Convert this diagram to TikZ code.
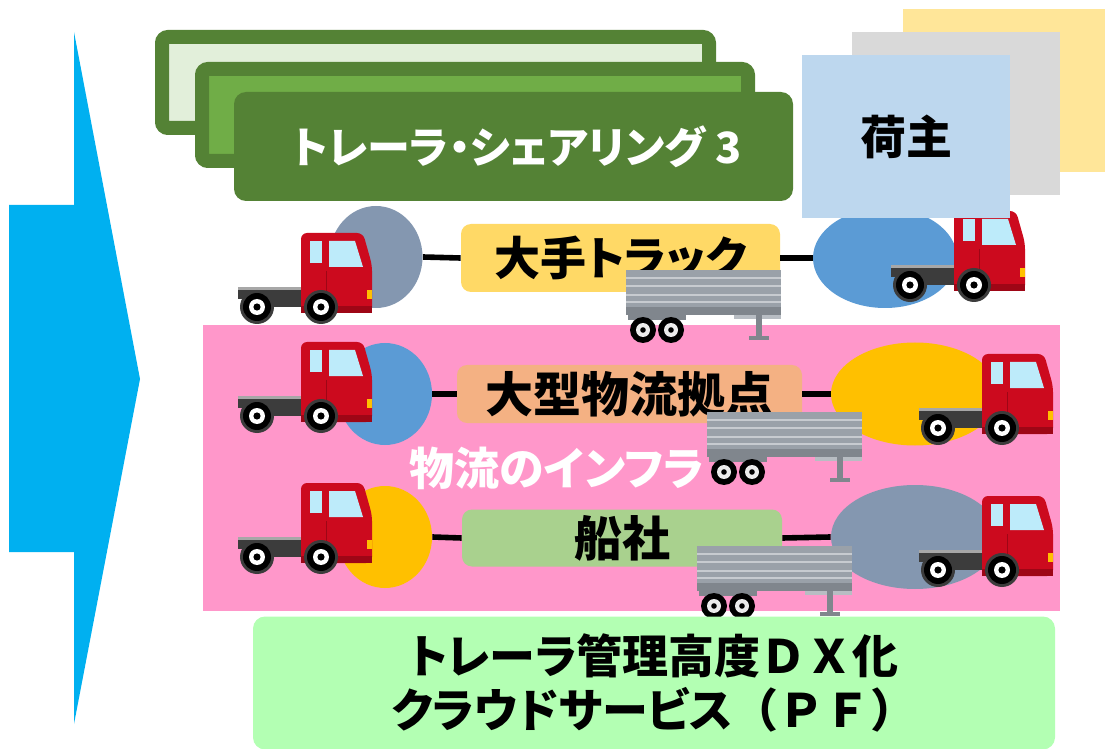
\documentclass[tikz,border=0pt]{standalone}
\usepackage{fontspec}
\setmainfont{Noto Sans CJK JP}[RawFeature=+palt]
\newfontfamily\jpplein{Noto Sans CJK JP}
\usepackage{tikz}
\usetikzlibrary{shapes.geometric}

\definecolor{bleuFleche}{HTML}{00B0F0}
\definecolor{vertFonce}{HTML}{548235}
\definecolor{vertMoyen}{HTML}{70AD47}
\definecolor{vertClair}{HTML}{E2EFDA}
\definecolor{jauneCarte}{HTML}{FFE699}
\definecolor{grisCarte}{HTML}{D9D9D9}
\definecolor{bleuCarte}{HTML}{BDD7EE}
\definecolor{rose}{HTML}{FF97CA}
\definecolor{grisBleu}{HTML}{8497B0}
\definecolor{bleu}{HTML}{5B9BD5}
\definecolor{orangeJ}{HTML}{FFC000}
\definecolor{jauneEt}{HTML}{FFD966}
\definecolor{orangeEt}{HTML}{F4B183}
\definecolor{vertEt}{HTML}{A9D18E}
\definecolor{vertPF}{HTML}{B3FFB3}
\definecolor{rouge}{HTML}{CC0A1E}
\definecolor{rougeF}{HTML}{9E0616}
\definecolor{vitre}{HTML}{BDEBFA}
\definecolor{chassis}{HTML}{3C3C3C}
\definecolor{grisR}{HTML}{9AA1A9}
\definecolor{grisF}{HTML}{80868D}

\tikzset{
  % tracteur : origine = avant de la cabine, axe des roues
  tracteur/.pic={
    \fill[chassis] (-134,-20) rectangle (-66,-8);
    \fill[chassis!45] (-134,-20) rectangle (-66,-17);
    \fill[chassis] (-126,-8) rectangle (-40,0);
    \fill[rouge, rounded corners=3pt] (-71,6) -- (-71,-74) -- (-9,-74) -- (0,-42) -- (0,6) -- cycle;
    \fill[rougeF] (-71,-1) rectangle (0,6);
    \fill[vitre] (-62,-66) rectangle (-50,-44);
    \fill[vitre] (-43,-66) -- (-17,-66) -- (-9,-40) -- (-43,-40) -- cycle;
    \draw[rougeF, line width=0.4pt] (-46,-36) -- (-46,-4);
    \fill[orangeJ] (-5,-17) rectangle (0,-8);
    \foreach \r in {-115,-51} {
      \fill[chassis] (\r,0) circle[radius=8.5pt];
      \fill[black] (\r,0) circle[radius=7pt];
      \fill[white] (\r,0) circle[radius=4pt];
      \fill[black] (\r,0) circle[radius=1.8pt];
    }
  },
  % remorque : origine = coin haut gauche de la caisse
  remorque/.pic={
    \fill[grisR] (0,0) rectangle (155,45);
    \foreach \s in {7,15,24,31} \fill[grisR!55!white] (0,\s) rectangle (155,\s+2);
    \fill[grisF] (0,37) rectangle (155,45);
    \fill[grisR!70!white] (108,45) rectangle (155,49);
    \fill[grisF] (2,45) rectangle (60,50);
    \fill[grisF] (130,45) rectangle (136,68);
    \fill[grisF] (123,66) rectangle (143,70);
    \foreach \r in {17,45} {
      \fill[black] (\r,60) circle[radius=6.5pt];
      \fill[white!85!gray] (\r,60) circle[radius=3.5pt];
      \fill[black] (\r,60) circle[radius=1.4pt];
    }
  }
}

\begin{document}
\begin{tikzpicture}[x=0.5pt, y=-0.5pt,
  cadre/.style={draw=vertFonce, line width=7pt, rounded corners=3pt, inner sep=0pt},
  carte/.style={inner sep=0pt, minimum width=104pt, minimum height=81.5pt},
  bulle/.style={ellipse, inner sep=0pt},
  boite/.style={rounded corners=5pt, inner sep=0pt, font=\bfseries\fontsize{24}{28}\selectfont},
  lien/.style={line width=2.8pt}
]
  \useasboundingbox (0,0) rectangle (1105,749);
  % Fleche
  \fill[bleuFleche] (9,205) -- (74,205) -- (74,32) -- (140,379) -- (74,724) -- (74,552) -- (9,552) -- cycle;
  % Cadres empiles
  \node[cadre, fill=vertClair, minimum width=273.5pt, minimum height=45.5pt] (c1) at (435.5,82.5) {};
  \node[cadre, fill=vertMoyen, minimum width=273pt, minimum height=46pt] (c2) at (475,115) {};
  \node[fill=vertFonce, rounded corners=6pt, inner sep=0pt, minimum width=279.5pt, minimum height=54.5pt,
    text=white, font=\bfseries\fontsize{21.5}{26}\selectfont] (c3) at (513.5,146.5) {\hspace{3pt}トレーラ・シェアリング 3};
  % Zone infra
  \fill[rose] (203,325) rectangle (1060,611);
  % Ligne 1
  \node[bulle, fill=grisBleu, minimum width=46.5pt, minimum height=51pt] (g1) at (376,257) {};
  \node[bulle, fill=bleu, minimum width=72pt, minimum height=50pt] (d1) at (885,258) {};
  \node[boite, fill=jauneEt, minimum width=159.5pt, minimum height=34pt, font=\bfseries\fontsize{23}{28}\selectfont] (e1) at (620.5,258) {大手トラック};
  \draw[lien] (g1.east) -- (e1.west);
  \draw[lien] (e1.east) -- (d1.west);
  % Ligne 2
  \node[bulle, fill=bleu, minimum width=47pt, minimum height=51pt] (g2) at (385,394) {};
  \node[bulle, fill=orangeJ, minimum width=84pt, minimum height=51.5pt] (d2) at (915,394) {};
  \node[boite, fill=orangeEt, minimum width=172.5pt, minimum height=29pt] (e2) at (629.5,394) {大型物流拠点};
  \draw[lien] (g2.east) -- (e2.west);
  \draw[lien] (e2.east) -- (d2.west);
  % Ligne 3
  \node[bulle, fill=orangeJ, minimum width=47pt, minimum height=51pt] (g3) at (385,537) {};
  \node[bulle, fill=grisBleu, minimum width=84pt, minimum height=52pt] (d3) at (915,537) {};
  \node[boite, fill=vertEt, minimum width=160pt, minimum height=28.5pt] (e3) at (622,538) {船社};
  \draw[lien] (g3.east) -- (e3.west);
  \draw[lien] (e3.east) -- (d3.west);
  % Camions
  \pic at (372,307) {tracteur};
  \pic at (1025,285) {tracteur};
  \pic at (372,416) {tracteur};
  \pic at (1053,428) {tracteur};
  \pic at (372,557) {tracteur};
  \pic at (1053,570) {tracteur};
  \pic at (626,270) {remorque};
  \pic at (707,412) {remorque};
  \pic at (697,546) {remorque};
  % Cartes chargeurs
  \node[carte, fill=jauneCarte] (k3) at (1007,90.5) {};
  \node[carte, fill=grisCarte] (k2) at (956,113.5) {};
  \node[carte, fill=bleuCarte, font=\bfseries\fontsize{23}{26}\selectfont] (k1) at (906,136.5) {荷主};
  % Textes
  \node[text=white, font=\bfseries\fontsize{22.5}{28}\selectfont] (infra) at (557,468) {物流のインフラ};
  \node[fill=vertPF, rounded corners=6pt, inner sep=0pt, minimum width=401pt, minimum height=66.5pt,
    align=center, font=\bfseries\fontsize{23}{27}\selectfont] (pf) at (654,683) {トレーラ管理高度{\jpplein\bfseries ＤＸ}化\\クラウドサービス{\jpplein\bfseries （ＰＦ）}};
\end{tikzpicture}
\end{document}
